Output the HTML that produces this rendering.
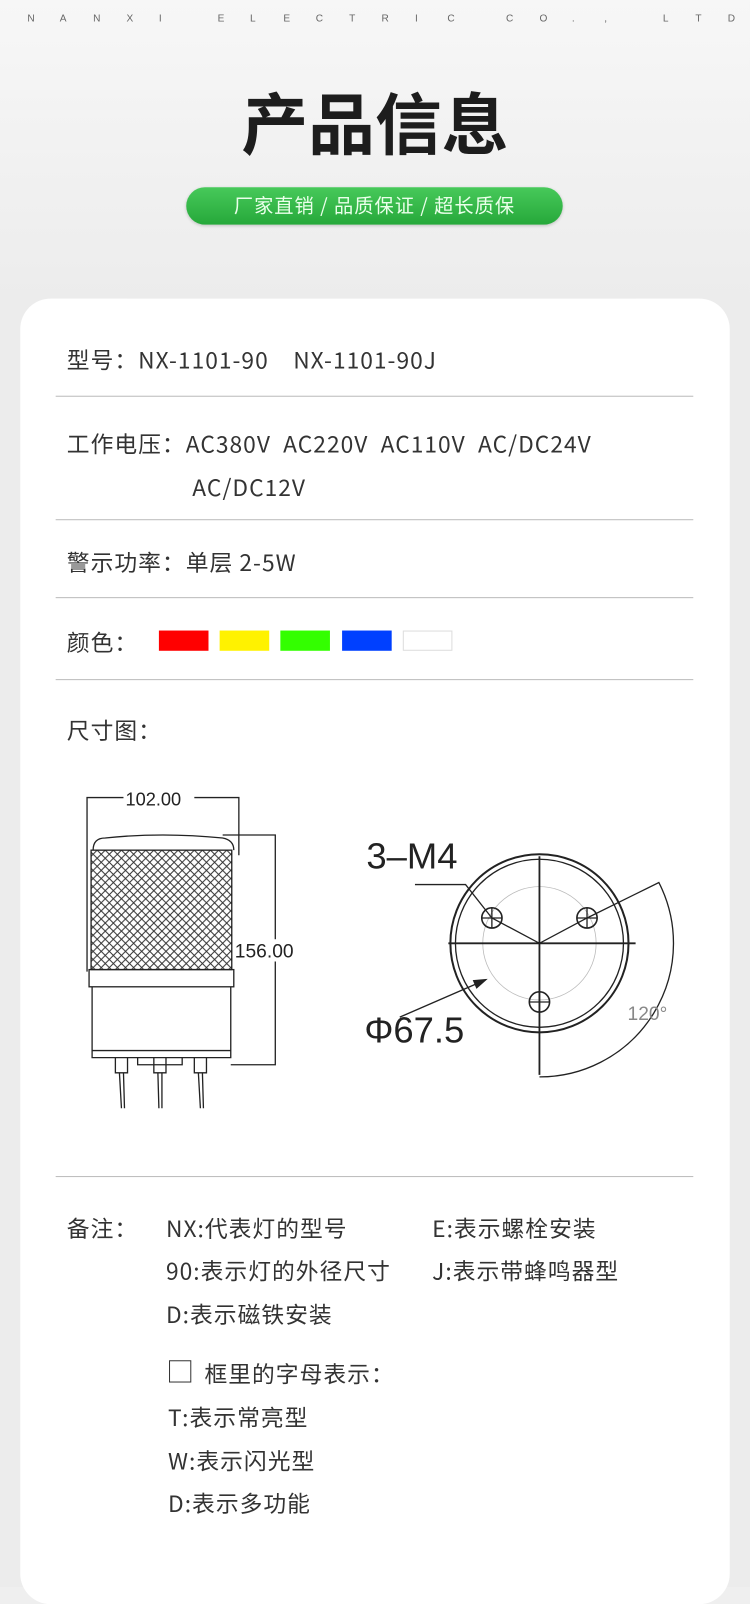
<!DOCTYPE html>
<html><head><meta charset="utf-8"><style>
html,body{margin:0;padding:0;width:750px;height:1587px;overflow:hidden;background:#efefef}
#w{position:absolute;left:0;top:0;width:741px;height:1568px;transform:scale(1.0121);transform-origin:0 0;background:linear-gradient(#f7f7f7,#ececec 300px,#ececec);font-family:"Noto Sans CJK SC","Liberation Sans",sans-serif;color:#333}
.t{position:absolute;white-space:nowrap}
.head{top:13px;left:0;width:741px;font-size:10px;color:#666;font-family:"Liberation Sans",sans-serif}
.card{position:absolute;left:20px;top:295px;width:701px;height:1290px;background:#fff;border-radius:30px}
.ln{position:absolute;left:55px;width:630px;height:1px;background:#bbb}
.f{font-size:22.5px;color:#333;line-height:30px;letter-spacing:1px}
.sw{position:absolute;top:623px;width:49px;height:20px}
</style></head><body><div id="w">
<div class="t head"><span style="position:absolute;left:27px">N</span><span style="position:absolute;left:59px">A</span><span style="position:absolute;left:92px">N</span><span style="position:absolute;left:125px">X</span><span style="position:absolute;left:157px">I</span><span style="position:absolute;left:215px">E</span><span style="position:absolute;left:247px">L</span><span style="position:absolute;left:280px">E</span><span style="position:absolute;left:312px">C</span><span style="position:absolute;left:345px">T</span><span style="position:absolute;left:377px">R</span><span style="position:absolute;left:410px">I</span><span style="position:absolute;left:442px">C</span><span style="position:absolute;left:500px">C</span><span style="position:absolute;left:533px">O</span><span style="position:absolute;left:565px">.</span><span style="position:absolute;left:597px">,</span><span style="position:absolute;left:655px">L</span><span style="position:absolute;left:687px">T</span><span style="position:absolute;left:719px">D</span></div>
<div class="t" style="left:0;width:741px;text-align:center;top:74px;font-size:66px;line-height:90px;font-weight:bold;color:#1d1d1d">产品信息</div>
<div style="position:absolute;left:184px;top:185px;width:372px;height:37px;border-radius:19px;background:linear-gradient(#47c95a,#26a83a);box-shadow:0 1px 3px rgba(0,0,0,.2)"></div>
<div class="t" style="left:184px;width:372px;text-align:center;top:188px;font-size:19px;line-height:30px;color:#eaffea;letter-spacing:1px">厂家直销 / 品质保证 / 超长质保</div>
<div class="card"></div>
<div class="t f" style="left:66px;top:340px">型号：NX-1101-90 &nbsp;&nbsp; NX-1101-90J</div>
<div class="ln" style="top:391px"></div>
<div class="t f" style="left:66px;top:423px">工作电压：AC380V &nbsp;AC220V &nbsp;AC110V &nbsp;AC/DC24V</div>
<div class="t f" style="left:190px;top:466px">AC/DC12V</div>
<div class="ln" style="top:513px"></div>
<div class="t f" style="left:66px;top:540px">警示功率：单层 2-5W</div>
<div class="ln" style="top:590px"></div>
<div class="t f" style="left:66px;top:619px">颜色：</div>
<div class="sw" style="left:157px;background:#f00"></div>
<div class="sw" style="left:217px;background:#fff200"></div>
<div class="sw" style="left:277px;background:#33ff00"></div>
<div class="sw" style="left:338px;background:#0040ff"></div>
<div class="sw" style="left:398px;box-sizing:border-box;border:1px solid #ddd"></div>
<div class="ln" style="top:671px"></div>
<div class="t f" style="left:66px;top:706px">尺寸图：</div>
<svg style="position:absolute;left:0;top:0" width="741" height="1568">
<defs><pattern id="m" width="8" height="8" patternUnits="userSpaceOnUse"><path d="M0 0L8 8M8 0L0 8" stroke="#333" stroke-width="1"/></pattern></defs>
<g stroke="#222" fill="none" stroke-width="1.3">
<path d="M86 960V788H236V845"/>
<path d="M220 825H272V1052H228"/>
<path d="M92 840Q92 828 104 828Q160 822 220 828Q231 830 231 840"/>
<rect x="90" y="840" width="139" height="118" fill="url(#m)"/>
<rect x="88" y="958" width="143" height="17"/>
<path d="M91 975V1045H228V975M91 1038H228"/>
<path d="M114 1045V1060H126V1045M152 1045V1060H164V1045M192 1045V1060H204V1045M136 1045V1052H180V1045"/>
<path d="M118 1060L120 1095M122 1060L123 1095M156 1060L157 1095M160 1060L160 1095M196 1060L198 1095M200 1060L201 1095"/>
<circle cx="533" cy="932" r="88" stroke-width="2"/>
<circle cx="533" cy="932" r="83"/>
<circle cx="533" cy="932" r="56" stroke="#bbb" stroke-width=".8"/>
<path d="M443 932H628M533 846V1062" stroke-width="1.8"/>
<path d="M486 907L533 932L580 907"/>
<circle cx="486" cy="907" r="10" stroke-width="1.6"/><path d="M476 907H496M486 897V917"/>
<circle cx="580" cy="907" r="10" stroke-width="1.6"/><path d="M570 907H590M580 897V917"/>
<circle cx="533" cy="990" r="10" stroke-width="1.6"/><path d="M523 990H543M533 980V1000"/>
<path d="M410 874H460L486 907"/>
<path d="M580 907L651 872A132 132 0 0 1 533 1064"/>
<path d="M395 1005L480 968"/><path d="M480 968L468 969L471 976Z" fill="#222"/>
</g>
<g font-family="Liberation Sans,sans-serif" fill="#222">
<rect x="122" y="779" width="70" height="18" fill="#fff"/>
<text x="124" y="796" font-size="18">102.00</text>
<rect x="231" y="928" width="66" height="22" fill="#fff"/>
<text x="232" y="946" font-size="19">156.00</text>
<text x="362" y="858" font-size="36">3–M4</text>
<text x="360" y="1030" font-size="36">Φ67.5</text>
<text x="620" y="1008" font-size="19" fill="#888">120°</text>
</g></svg>
<div class="ln" style="top:1162px"></div>
<div class="t f" style="left:66px;top:1198px">备注：</div>
<div class="t f" style="left:164px;top:1198px">NX:代表灯的型号</div>
<div class="t f" style="left:427px;top:1198px">E:表示螺栓安装</div>
<div class="t f" style="left:164px;top:1240px">90:表示灯的外径尺寸</div>
<div class="t f" style="left:427px;top:1240px">J:表示带蜂鸣器型</div>
<div class="t f" style="left:164px;top:1283px">D:表示磁铁安装</div>
<div style="position:absolute;left:167px;top:1344px;width:20px;height:20px;border:1.5px solid #333"></div>
<div class="t f" style="left:202px;top:1342px">框里的字母表示：</div>
<div class="t f" style="left:166px;top:1385px">T:表示常亮型</div>
<div class="t f" style="left:166px;top:1428px">W:表示闪光型</div>
<div class="t f" style="left:166px;top:1470px">D:表示多功能</div>
</div></body></html>
